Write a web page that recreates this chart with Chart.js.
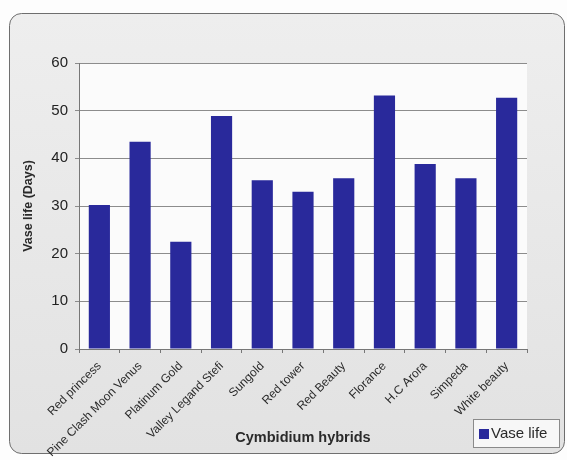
<!DOCTYPE html>
<html>
<head>
<meta charset="utf-8">
<script src="https://cdn.jsdelivr.net/npm/chart.js@4"></script>
<style>
  body { margin: 0; background: #fff; }
  canvas { display: block; }
</style>
</head>
<body>
<canvas id="vaseChart" width="567" height="460"></canvas>
<script>
// Cymbidium hybrids - vase life
const categories = ['Red princess', 'Pine Clash Moon Venus', 'Platinum Gold', 'Valley Legand Stefi', 'Sungold',
  'Red tower', 'Red Beauty', 'Florance', 'H.C Arora', 'Simpeda', 'White beauty'];
const vaseLife = [30.2, 43.5, 22.5, 48.9, 35.4, 33.0, 35.8, 53.2, 38.8, 35.8, 52.7];
const yMin = 0;
const yMax = 60;
const yStep = 10;

const FONT = "'Liberation Sans', Arial, sans-serif";

// panel background + plot area
const panelBg = {
  id: 'panelBg',
  beforeDraw(chart) {
    const ctx = chart.ctx;
    const a = chart.chartArea;
    ctx.save();
    ctx.fillStyle = '#fdfdfd';
    ctx.fillRect(0, 0, chart.width, chart.height);
    const g = ctx.createLinearGradient(0, 13, 0, 454);
    g.addColorStop(0, '#eeeeee');
    g.addColorStop(1, '#e2e2e2');
    ctx.beginPath();
    ctx.roundRect(9.5, 13.5, 555, 440, 12);
    ctx.fillStyle = g;
    ctx.fill();
    ctx.strokeStyle = '#6e6e6e';
    ctx.lineWidth = 1;
    ctx.stroke();
    ctx.fillStyle = '#fbfbfb';
    ctx.fillRect(a.left, a.top, a.right - a.left, a.bottom - a.top);
    ctx.restore();
  }
};

// legend box in the bottom right corner
const cornerLegend = {
  id: 'cornerLegend',
  afterDraw(chart) {
    const ctx = chart.ctx;
    const ds = chart.data.datasets[0];
    ctx.save();
    ctx.fillStyle = '#f7f7f7';
    ctx.fillRect(473.5, 419.5, 86, 28);
    ctx.strokeStyle = '#8a8a8a';
    ctx.lineWidth = 1;
    ctx.strokeRect(473.5, 419.5, 86, 28);
    ctx.fillStyle = ds.backgroundColor;
    ctx.fillRect(479, 429, 10, 10);
    ctx.fillStyle = '#2a2a2a';
    ctx.font = '15px ' + FONT;
    ctx.textBaseline = 'middle';
    ctx.fillText(ds.label, 491, 434);
    ctx.restore();
  }
};

const ctx = document.getElementById('vaseChart').getContext('2d');
new Chart(ctx, {
  type: 'bar',
  data: {
    labels: categories,
    datasets: [{
      label: 'Vase life',
      data: vaseLife,
      backgroundColor: '#29299b',
      borderWidth: 0,
      categoryPercentage: 1,
      barPercentage: 0.52
    }]
  },
  options: {
    responsive: false,
    animation: false,
    layout: { padding: { top: 63, right: 40, left: 0, bottom: 0 } },
    plugins: {
      legend: { display: false },
      tooltip: { enabled: false }
    },
    scales: {
      x: {
        afterFit(s) { s.height = 111; },
        grid: { drawOnChartArea: false, drawTicks: true, tickLength: 4, color: '#777' },
        border: { color: '#777' },
        ticks: {
          minRotation: 45,
          maxRotation: 45,
          autoSkip: false,
          padding: 6,
          color: '#2a2a2a',
          font: { family: FONT, size: 12 }
        },
        title: {
          display: true,
          text: 'Cymbidium hybrids',
          color: '#2a2a2a',
          font: { family: FONT, size: 14.5, weight: 'bold' },
          padding: { top: 0, bottom: 13 }
        }
      },
      y: {
        min: yMin,
        max: yMax,
        afterFit(s) { s.width = 79; },
        grid: { color: '#8c8c8c', tickLength: 4 },
        border: { color: '#777' },
        ticks: {
          stepSize: yStep,
          padding: 7,
          color: '#222',
          font: { family: FONT, size: 15 }
        },
        title: {
          display: true,
          text: 'Vase life (Days)',
          color: '#2a2a2a',
          font: { family: FONT, size: 12.5, weight: 'bold' },
          padding: { top: 21.5, bottom: 0 }
        }
      }
    }
  },
  plugins: [panelBg, cornerLegend]
});
</script>
</body>
</html>
